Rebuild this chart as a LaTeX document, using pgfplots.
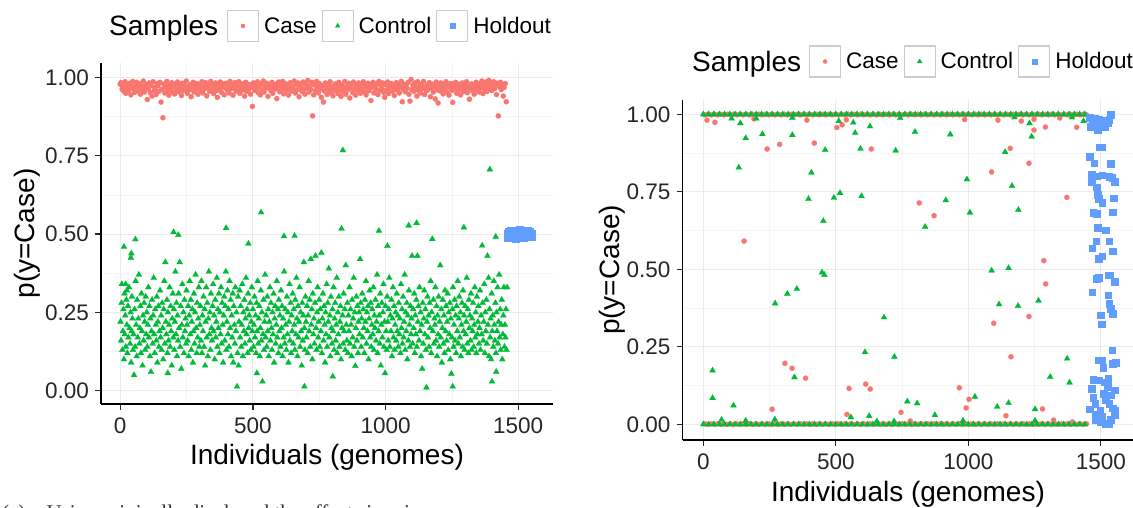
\documentclass[border=0pt]{standalone}
\usepackage{fontspec}
\setmainfont{Liberation Sans}
\newfontfamily\capfont{Liberation Serif}
\usepackage{pgfplots}
\pgfplotsset{compat=1.18}
\usepackage{pgfplotstable}
\definecolor{casecol}{HTML}{F8766D}
\definecolor{ctrlcol}{HTML}{00BA38}
\definecolor{holdcol}{HTML}{619CFF}
\definecolor{gridmaj}{HTML}{EBEBEB}
\definecolor{gridmin}{HTML}{F4F4F4}

% right panel: dense rows of points at p=1 and p=0
\pgfplotstableread[row sep=\\]{
x t b\\ 0 1 0\\ 10 1 0\\ 20 1 0\\ 30 1 0\\ 40 1 0\\ 50 1 0\\ 60 1 0\\ 70 1 0\\ 80 1 0\\ 90 1 0\\
100 1 0\\ 110 1 0\\ 120 1 0\\ 130 1 0\\ 140 1 0\\ 150 1 0\\ 160 1 0\\ 170 1 0\\ 180 1 0\\ 190 1 0\\
200 1 0\\ 210 1 0\\ 220 1 0\\ 230 1 0\\ 240 1 0\\ 250 1 0\\ 260 1 0\\ 270 1 0\\ 280 1 0\\ 290 1 0\\
300 1 0\\ 310 1 0\\ 320 1 0\\ 330 1 0\\ 340 1 0\\ 350 1 0\\ 360 1 0\\ 370 1 0\\ 380 1 0\\ 390 1 0\\
400 1 0\\ 410 1 0\\ 420 1 0\\ 430 1 0\\ 440 1 0\\ 450 1 0\\ 460 1 0\\ 470 1 0\\ 480 1 0\\ 490 1 0\\
500 1 0\\ 510 1 0\\ 520 1 0\\ 530 1 0\\ 540 1 0\\ 550 1 0\\ 560 1 0\\ 570 1 0\\ 580 1 0\\ 590 1 0\\
600 1 0\\ 610 1 0\\ 620 1 0\\ 630 1 0\\ 640 1 0\\ 650 1 0\\ 660 1 0\\ 670 1 0\\ 680 1 0\\ 690 1 0\\
700 1 0\\ 710 1 0\\ 720 1 0\\ 730 1 0\\ 740 1 0\\ 750 1 0\\ 760 1 0\\ 770 1 0\\ 780 1 0\\ 790 1 0\\
800 1 0\\ 810 1 0\\ 820 1 0\\ 830 1 0\\ 840 1 0\\ 850 1 0\\ 860 1 0\\ 870 1 0\\ 880 1 0\\ 890 1 0\\
900 1 0\\ 910 1 0\\ 920 1 0\\ 930 1 0\\ 940 1 0\\ 950 1 0\\ 960 1 0\\ 970 1 0\\ 980 1 0\\ 990 1 0\\
1000 1 0\\ 1010 1 0\\ 1020 1 0\\ 1030 1 0\\ 1040 1 0\\ 1050 1 0\\ 1060 1 0\\ 1070 1 0\\ 1080 1 0\\ 1090 1 0\\
1100 1 0\\ 1110 1 0\\ 1120 1 0\\ 1130 1 0\\ 1140 1 0\\ 1150 1 0\\ 1160 1 0\\ 1170 1 0\\ 1180 1 0\\ 1190 1 0\\
1200 1 0\\ 1210 1 0\\ 1220 1 0\\ 1230 1 0\\ 1240 1 0\\ 1250 1 0\\ 1260 1 0\\ 1270 1 0\\ 1280 1 0\\ 1290 1 0\\
1300 1 0\\ 1310 1 0\\ 1320 1 0\\ 1330 1 0\\ 1340 1 0\\ 1350 1 0\\ 1360 1 0\\ 1370 1 0\\ 1380 1 0\\ 1390 1 0\\
1400 1 0\\ 1410 1 0\\ 1420 1 0\\ 1430 1 0\\ 1440 1 0\\ 1450 1 0\\
}\greenline
\pgfplotstableread[row sep=\\]{
x t b\\ 6 0.998 0.002\\ 18 1 0\\ 30 0.998 0.002\\ 42 1 0\\ 54 0.998 0.002\\ 66 1 0\\ 78 0.998 0.002\\ 90 1 0\\
102 0.998 0.002\\ 114 1 0\\ 126 0.998 0.002\\ 138 1 0\\ 150 0.998 0.002\\ 162 1 0\\ 174 0.998 0.002\\ 186 1 0\\ 198 0.998 0.002\\
210 1 0\\ 222 0.998 0.002\\ 234 1 0\\ 246 0.998 0.002\\ 258 1 0\\ 270 0.998 0.002\\ 282 1 0\\ 294 0.998 0.002\\
306 1 0\\ 318 0.998 0.002\\ 330 1 0\\ 342 0.998 0.002\\ 354 1 0\\ 366 0.998 0.002\\ 378 1 0\\ 390 0.998 0.002\\
402 1 0\\ 414 0.998 0.002\\ 426 1 0\\ 438 0.998 0.002\\ 450 1 0\\ 462 0.998 0.002\\ 474 1 0\\ 486 0.998 0.002\\ 498 1 0\\
510 0.998 0.002\\ 522 1 0\\ 534 0.998 0.002\\ 546 1 0\\ 558 0.998 0.002\\ 570 1 0\\ 582 0.998 0.002\\ 594 1 0\\
606 0.998 0.002\\ 618 1 0\\ 630 0.998 0.002\\ 642 1 0\\ 654 0.998 0.002\\ 666 1 0\\ 678 0.998 0.002\\ 690 1 0\\
702 0.998 0.002\\ 714 1 0\\ 726 0.998 0.002\\ 738 1 0\\ 750 0.998 0.002\\ 762 1 0\\ 774 0.998 0.002\\ 786 1 0\\ 798 0.998 0.002\\
810 1 0\\ 822 0.998 0.002\\ 834 1 0\\ 846 0.998 0.002\\ 858 1 0\\ 870 0.998 0.002\\ 882 1 0\\ 894 0.998 0.002\\
906 1 0\\ 918 0.998 0.002\\ 930 1 0\\ 942 0.998 0.002\\ 954 1 0\\ 966 0.998 0.002\\ 978 1 0\\ 990 0.998 0.002\\
1002 1 0\\ 1014 0.998 0.002\\ 1026 1 0\\ 1038 0.998 0.002\\ 1050 1 0\\ 1062 0.998 0.002\\ 1074 1 0\\ 1086 0.998 0.002\\ 1098 1 0\\
1110 0.998 0.002\\ 1122 1 0\\ 1134 0.998 0.002\\ 1146 1 0\\ 1158 0.998 0.002\\ 1170 1 0\\ 1182 0.998 0.002\\ 1194 1 0\\
1206 0.998 0.002\\ 1218 1 0\\ 1230 0.998 0.002\\ 1242 1 0\\ 1254 0.998 0.002\\ 1266 1 0\\ 1278 0.998 0.002\\ 1290 1 0\\
1302 0.998 0.002\\ 1314 1 0\\ 1326 0.998 0.002\\ 1338 1 0\\ 1350 0.998 0.002\\ 1362 1 0\\ 1374 0.998 0.002\\ 1386 1 0\\ 1398 0.998 0.002\\
1410 1 0\\ 1422 0.998 0.002\\ 1434 1 0\\ 1446 0.998 0.002\\
}\redline

\pgfplotsset{
  panel/.style={
    scale only axis, width=452pt,
    axis x line*=bottom, axis y line*=left,
    axis line style={line width=1.3pt, black, -},
    tick align=outside, major tick length=6pt,
    tick style={line width=1.2pt, black!85},
    minor tick length=0pt,
    xtick={0,500,1000,1500}, xticklabels={0,500,1000,1500},
    minor xtick={250,750,1250},
    ytick={0,0.25,0.5,0.75,1}, yticklabels={0.00,0.25,0.50,0.75,1.00},
    minor ytick={0.125,0.375,0.625,0.875},
    grid=both,
    major grid style={gridmaj, line width=1pt},
    minor grid style={gridmin, line width=0.6pt},
    /pgf/number format/assume math mode=true,
    tick label style={font=\fontsize{22.5}{26}\selectfont, text=black!85},
    xticklabel style={inner sep=0pt, yshift=-8pt},
    yticklabel style={inner sep=0pt, xshift=-6pt},
    legend style={draw=none, fill=none, inner sep=0pt, outer sep=0pt,
      legend columns=-1, font=\fontsize{22.5}{26}\selectfont,
      /tikz/every odd column/.append style={column sep=3pt},
      /tikz/every even column/.append style={column sep=3pt}},
  },
  casep/.style={only marks, mark=*, mark size=2.6pt, color=casecol,
    mark options={draw=casecol, fill=casecol, line width=0.2pt}},
  ctrlp/.style={only marks, mark=triangle*, mark size=3.5pt, color=ctrlcol,
    mark options={draw=ctrlcol, fill=ctrlcol, line width=0.2pt}},
  holdp/.style={only marks, mark=square*, mark size=3.3pt, color=holdcol,
    mark options={draw=holdcol, fill=holdcol, line width=0.2pt}},
  keycase/.style={legend image code/.code={
    \draw[draw=black!20, fill=white, line width=1.1pt] (0pt,-15.5pt) rectangle (31pt,15.5pt);
    \draw[mark size=2.1pt] plot coordinates {(15.5pt,0pt)};}},
  keyctrl/.style={legend image code/.code={
    \draw[draw=black!20, fill=white, line width=1.1pt] (0pt,-15.5pt) rectangle (31pt,15.5pt);
    \draw[mark size=2.8pt] plot coordinates {(15.5pt,0pt)};}},
  keyhold/.style={legend image code/.code={
    \draw[draw=black!20, fill=white, line width=1.1pt] (0pt,-15.5pt) rectangle (31pt,15.5pt);
    \draw[mark size=2.6pt] plot coordinates {(15.5pt,0pt)};}},
}

\begin{document}
\begin{tikzpicture}
\useasboundingbox (0pt,0pt) rectangle (1133pt,508pt);

%================ LEFT PANEL =================
\begin{axis}[panel, at={(101pt,104pt)}, anchor=south west, height=340.7pt,
  xmin=-72.5, xmax=1631, ymin=-0.0424, ymax=1.0447,
  legend style={at={(axis description cs:0.2788,1.1095)}, anchor=west}]
\addplot[casep, keycase] coordinates {
(0,0.978)(3,0.983)(7,0.962)(10,0.971)(14,0.955)(18,0.986)(21,0.949)(25,0.968)(29,0.976)(32,0.958)(36,0.981)(40,0.944)(43,0.970)(47,0.987)(51,0.962)(54,0.952)(58,0.975)(62,0.984)(65,0.957)(69,0.966)(73,0.979)(76,0.946)(80,0.972)(84,0.960)(87,0.988)(91,0.953)(95,0.969)(98,0.977)
(102,0.929)(106,0.963)(109,0.982)(113,0.951)(117,0.974)(120,0.940)(124,0.986)(128,0.958)(131,0.967)(135,0.945)(139,0.980)(142,0.973)(146,0.955)(150,0.984)(154,0.921)(157,0.962)(161,0.871)(165,0.978)(168,0.950)(172,0.969)(176,0.987)(179,0.957)(183,0.943)(187,0.976)(190,0.964)(194,0.983)(198,0.952)
(201,0.970)(205,0.947)(209,0.979)(212,0.961)(216,0.985)(220,0.954)(223,0.972)(227,0.966)(231,0.942)(234,0.981)(238,0.958)(242,0.975)(245,0.963)(249,0.988)(253,0.949)(256,0.970)(260,0.960)(264,0.977)(267,0.938)(271,0.965)(275,0.984)(278,0.953)(282,0.973)(286,0.962)(289,0.980)(293,0.946)(297,0.968)
(300,0.976)(304,0.957)(308,0.986)(311,0.950)(315,0.971)(319,0.964)(322,0.983)(326,0.941)(330,0.967)(333,0.978)(337,0.955)(341,0.987)(344,0.961)(348,0.974)(352,0.948)(355,0.969)(359,0.982)(363,0.958)(366,0.936)(370,0.975)(374,0.963)(377,0.985)(381,0.952)(385,0.970)(388,0.979)(392,0.944)(396,0.966)
(399,0.981)(403,0.959)(407,0.972)(410,0.950)(414,0.987)(418,0.964)(421,0.976)(425,0.943)(429,0.968)(432,0.983)(436,0.956)(440,0.974)(443,0.962)(447,0.986)(451,0.949)(454,0.971)(458,0.958)(462,0.979)(465,0.967)(469,0.940)(473,0.984)(476,0.955)(480,0.973)(484,0.961)(487,0.977)(491,0.946)(495,0.969)(498,0.907)
(502,0.982)(506,0.958)(509,0.975)(513,0.963)(517,0.986)(520,0.951)(524,0.970)(528,0.944)(531,0.979)(535,0.960)(539,0.988)(542,0.953)(546,0.972)(550,0.965)(553,0.981)(557,0.939)(561,0.967)(564,0.976)(568,0.957)(572,0.984)(575,0.949)(579,0.971)(583,0.962)(586,0.978)(590,0.932)(594,0.966)(597,0.985)
(601,0.954)(605,0.973)(608,0.961)(612,0.987)(616,0.947)(619,0.969)(623,0.980)(627,0.958)(630,0.975)(634,0.943)(638,0.965)(641,0.983)(645,0.956)(649,0.971)(652,0.963)(656,0.988)(660,0.950)(663,0.977)(667,0.960)(671,0.982)(674,0.938)(678,0.968)(682,0.974)(685,0.955)(689,0.985)(693,0.962)(696,0.946)
(700,0.978)(704,0.966)(707,0.990)(711,0.953)(715,0.972)(718,0.961)(722,0.984)(725,0.877)(729,0.944)(733,0.975)(736,0.958)(740,0.987)(744,0.969)(747,0.950)(751,0.980)(755,0.963)(758,0.936)(762,0.973)(766,0.921)(769,0.956)(773,0.982)(777,0.967)(780,0.945)(784,0.976)(788,0.960)(791,0.986)(795,0.952)(799,0.970)
(802,0.941)(806,0.965)(810,0.979)(813,0.957)(817,0.972)(821,0.948)(824,0.984)(828,0.962)(832,0.939)(835,0.975)(839,0.955)(843,0.968)(846,0.987)(850,0.946)(854,0.971)(857,0.960)(861,0.981)(865,0.934)(868,0.966)(872,0.977)(876,0.951)(879,0.985)(883,0.963)(887,0.943)(890,0.974)(894,0.958)(898,0.982)
(901,0.967)(905,0.949)(909,0.978)(912,0.961)(916,0.986)(920,0.953)(923,0.972)(927,0.944)(931,0.965)(934,0.981)(938,0.957)(942,0.975)(945,0.926)(949,0.968)(953,0.984)(956,0.950)(960,0.970)(964,0.962)(967,0.979)(971,0.945)(975,0.987)(978,0.958)(982,0.973)(986,0.964)(989,0.982)(993,0.952)(997,0.936)
(1000,0.977)(1004,0.960)(1008,0.985)(1011,0.948)(1015,0.971)(1019,0.963)(1022,0.980)(1026,0.956)(1030,0.974)(1033,0.942)(1037,0.967)(1041,0.983)(1044,0.959)(1048,0.976)(1052,0.950)(1055,0.969)(1059,0.987)(1063,0.922)(1066,0.962)(1070,0.978)(1074,0.954)(1077,0.972)(1081,0.965)(1085,0.984)(1088,0.946)(1092,0.924)(1096,0.993)
(1099,0.961)(1103,0.975)(1107,0.955)(1110,0.982)(1114,0.968)(1118,0.940)(1121,0.986)(1125,0.958)(1129,0.973)(1132,0.950)(1136,0.979)(1140,0.964)(1143,0.987)(1147,0.945)(1151,0.970)(1154,0.957)(1158,0.976)(1162,0.962)(1165,0.983)(1169,0.938)(1173,0.967)(1176,0.978)(1180,0.953)(1184,0.971)(1187,0.931)(1191,0.985)(1195,0.960)(1198,0.918)
(1202,0.974)(1206,0.956)(1209,0.982)(1213,0.965)(1217,0.947)(1220,0.977)(1224,0.961)(1228,0.986)(1231,0.952)(1235,0.972)(1239,0.943)(1242,0.968)(1246,0.980)(1250,0.958)(1253,0.920)(1257,0.975)(1261,0.963)(1264,0.984)(1268,0.949)(1272,0.970)(1275,0.959)(1279,0.978)(1283,0.944)(1286,0.966)(1290,0.982)(1294,0.955)(1297,0.973)
(1301,0.962)(1305,0.986)(1308,0.951)(1312,0.971)(1316,0.930)(1319,0.964)(1323,0.979)(1327,0.957)(1330,0.975)(1334,0.946)(1338,0.968)(1341,0.984)(1345,0.960)(1349,0.973)(1352,0.953)(1356,0.981)(1360,0.966)(1363,0.988)(1367,0.948)(1371,0.977)(1374,0.962)(1378,0.985)(1382,0.955)(1385,0.972)(1389,0.990)(1393,0.967)(1396,0.980)(1400,0.958)(1404,0.976)(1407,0.986)(1411,0.964)(1415,0.982)(1418,0.945)(1422,0.978)(1425,0.877)(1429,0.970)(1433,0.984)(1436,0.961)(1440,0.975)(1444,0.940)(1447,0.968)(1451,0.980)(1455,0.922)
};
\addlegendentry{Case}
\addplot[ctrlp, keyctrl] coordinates {
(14,0.459)(57,0.483)(42,0.438)(40,0.424)(20,0.34)(25,0.32)
(1,0.22)(3,0.16)(5,0.28)(6,0.34)(8,0.13)(10,0.19)(12,0.26)(14,0.10)(16,0.31)(17,0.18)(19,0.24)(21,0.14)(23,0.29)(25,0.21)(27,0.12)(29,0.27)(31,0.17)(33,0.33)(35,0.20)(37,0.15)(39,0.25)(41,0.09)(43,0.19)(44,0.30)(46,0.23)(48,0.13)
(50,0.18)(52,0.05)(54,0.26)(56,0.14)(58,0.35)(60,0.21)(62,0.11)(64,0.29)(66,0.17)(68,0.23)(70,0.37)(72,0.15)(74,0.20)(76,0.27)(78,0.12)(80,0.31)(82,0.19)(84,0.08)(86,0.24)(88,0.16)(90,0.28)(92,0.22)(94,0.13)(96,0.30)(98,0.18)
(100,0.25)(102,0.14)(104,0.21)(106,0.33)(108,0.17)(110,0.27)(112,0.11)(114,0.23)(116,0.06)(118,0.19)(120,0.29)(122,0.15)(124,0.24)(126,0.36)(128,0.18)(130,0.12)(132,0.26)(134,0.21)(136,0.16)(138,0.30)(140,0.09)(142,0.22)(144,0.27)(146,0.14)(148,0.19)
(150,0.32)(152,0.17)(154,0.24)(156,0.13)(158,0.28)(160,0.20)(162,0.10)(164,0.26)(166,0.35)(168,0.15)(170,0.41)(172,0.22)(174,0.18)(176,0.29)(178,0.12)(179,0.056)(180,0.25)(182,0.16)(184,0.21)(186,0.33)(188,0.14)(190,0.27)(192,0.19)(194,0.08)(196,0.23)(198,0.31)
(201,0.506)(200,0.17)(202,0.26)(204,0.13)(206,0.22)(208,0.38)(210,0.18)(212,0.28)(214,0.11)(216,0.24)(219,0.497)(218,0.16)(220,0.31)(222,0.20)(224,0.41)(226,0.14)(228,0.27)(230,0.07)(232,0.21)(234,0.34)(236,0.17)(238,0.25)(240,0.12)(242,0.29)(244,0.19)(246,0.23)(248,0.15)
(250,0.32)(252,0.21)(254,0.16)(256,0.27)(258,0.11)(260,0.24)(262,0.35)(264,0.18)(266,0.29)(268,0.13)(270,0.22)(272,0.26)(274,0.09)(276,0.19)(278,0.31)(280,0.15)(282,0.25)(284,0.37)(286,0.20)(288,0.12)(290,0.28)(292,0.17)(294,0.23)(296,0.33)(298,0.14)
(300,0.21)(302,0.27)(304,0.16)(306,0.35)(308,0.12)(310,0.24)(312,0.19)(314,0.30)(316,0.14)(318,0.26)(320,0.08)(322,0.22)(324,0.33)(326,0.17)(328,0.28)(330,0.11)(332,0.23)(334,0.38)(336,0.18)(338,0.25)(340,0.13)(342,0.31)(344,0.20)(346,0.16)(348,0.27)
(350,0.34)(352,0.19)(354,0.24)(356,0.10)(358,0.29)(360,0.17)(362,0.22)(364,0.36)(366,0.14)(368,0.26)(370,0.20)(372,0.31)(374,0.12)(376,0.25)(378,0.18)(380,0.33)(382,0.15)(384,0.28)(386,0.21)(388,0.09)(390,0.24)(392,0.30)(394,0.16)(396,0.27)(398,0.38)(399,0.519)
(400,0.13)(402,0.22)(404,0.32)(406,0.18)(408,0.26)(410,0.14)(412,0.35)(414,0.20)(416,0.29)(418,0.11)(420,0.24)(422,0.17)(424,0.31)(426,0.09)(428,0.27)(430,0.21)(432,0.15)(434,0.33)(436,0.19)(438,0.25)(440,0.013)(442,0.12)(444,0.30)(446,0.08)(448,0.22)
(450,0.32)(452,0.17)(454,0.27)(456,0.14)(458,0.21)(460,0.34)(462,0.11)(464,0.25)(466,0.19)(468,0.29)(470,0.15)(472,0.23)(474,0.36)(476,0.18)(478,0.26)(480,0.12)(482,0.31)(483,0.469)(484,0.20)(486,0.24)(488,0.16)(490,0.28)(492,0.13)(494,0.22)(496,0.33)(498,0.19)
(500,0.26)(502,0.14)(504,0.21)(506,0.30)(508,0.17)(510,0.24)(512,0.12)(514,0.28)(515,0.056)(516,0.19)(518,0.35)(520,0.15)(522,0.23)(524,0.27)(526,0.11)(528,0.20)(530,0.32)(531,0.569)(532,0.16)(534,0.25)(536,0.029)(538,0.18)(540,0.29)(542,0.13)(544,0.22)(546,0.37)(548,0.17)
(550,0.24)(552,0.14)(554,0.30)(556,0.19)(558,0.26)(560,0.11)(562,0.22)(564,0.33)(566,0.16)(568,0.28)(570,0.20)(572,0.13)(574,0.25)(576,0.18)(578,0.31)(580,0.09)(582,0.23)(584,0.27)(586,0.15)(588,0.21)(590,0.35)(592,0.17)(594,0.26)(596,0.12)(598,0.29)
(600,0.19)(602,0.24)(604,0.14)(606,0.32)(608,0.20)(610,0.27)(612,0.11)(614,0.23)(616,0.17)(617,0.493)(618,0.38)(620,0.15)(622,0.26)(624,0.21)(626,0.13)(628,0.30)(630,0.18)(632,0.25)(634,0.09)(636,0.22)(638,0.34)(640,0.16)(642,0.28)(644,0.12)(646,0.24)(648,0.19)
(650,0.31)(652,0.15)(654,0.26)(656,0.21)(657,0.494)(658,0.13)(660,0.29)(662,0.18)(664,0.36)(666,0.23)(668,0.11)(670,0.27)(672,0.17)(674,0.22)(676,0.33)(678,0.14)(680,0.25)(682,0.19)(684,0.08)(686,0.28)(688,0.16)(690,0.24)(692,0.41)(694,0.20)(696,0.13)(698,0.30)(694,0.013)
(700,0.22)(702,0.17)(704,0.27)(706,0.12)(708,0.24)(710,0.35)(712,0.19)(714,0.29)(716,0.14)(718,0.42)(720,0.21)(722,0.26)(724,0.10)(726,0.31)(728,0.18)(730,0.23)(732,0.15)(734,0.28)(736,0.43)(738,0.20)(740,0.13)(742,0.25)(744,0.33)(746,0.17)(748,0.22)
(750,0.29)(752,0.14)(754,0.26)(756,0.19)(758,0.44)(760,0.12)(762,0.23)(764,0.31)(766,0.16)(768,0.27)(770,0.21)(772,0.09)(774,0.25)(776,0.18)(778,0.34)(780,0.14)(782,0.28)(784,0.22)(786,0.39)(788,0.17)(790,0.24)(792,0.11)(794,0.30)(796,0.20)(798,0.15)(801,0.045)
(800,0.26)(802,0.19)(804,0.33)(806,0.13)(808,0.23)(810,0.28)(812,0.16)(814,0.21)(816,0.36)(818,0.12)(820,0.25)(822,0.18)(824,0.30)(826,0.14)(828,0.22)(830,0.27)(832,0.10)(834,0.517)(836,0.20)(838,0.24)(839,0.767)(840,0.15)(842,0.31)(844,0.19)(846,0.26)(848,0.13)
(850,0.40)(852,0.21)(854,0.16)(856,0.28)(858,0.12)(860,0.24)(862,0.19)(864,0.33)(866,0.15)(868,0.26)(870,0.21)(872,0.11)(874,0.29)(876,0.17)(878,0.23)(880,0.36)(882,0.14)(884,0.25)(886,0.079)(888,0.20)(890,0.30)(892,0.16)(894,0.27)(896,0.12)(898,0.22)
(900,0.25)(902,0.18)(904,0.42)(906,0.28)(908,0.14)(910,0.23)(912,0.31)(914,0.17)(916,0.26)(918,0.20)(920,0.12)(922,0.29)(924,0.22)(926,0.35)(928,0.15)(930,0.25)(932,0.19)(934,0.27)(936,0.10)(938,0.23)(940,0.32)(942,0.17)(944,0.28)(946,0.14)(948,0.21)
(950,0.26)(952,0.18)(954,0.33)(956,0.13)(958,0.24)(960,0.20)(962,0.29)(964,0.16)(966,0.22)(968,0.37)(970,0.12)(972,0.27)(974,0.19)(975,0.510)(976,0.24)(978,0.15)(980,0.31)(982,0.08)(984,0.21)(986,0.28)(988,0.17)(990,0.25)(992,0.34)(994,0.14)(996,0.22)(998,0.056)
(1000,0.27)(1002,0.19)(1004,0.13)(1006,0.30)(1007,0.462)(1008,0.22)(1010,0.16)(1012,0.26)(1014,0.36)(1016,0.14)(1018,0.24)(1020,0.19)(1022,0.29)(1024,0.11)(1026,0.23)(1028,0.33)(1030,0.17)(1032,0.27)(1034,0.13)(1036,0.21)(1038,0.25)(1040,0.16)(1042,0.31)(1044,0.19)(1046,0.24)(1048,0.14)
(1050,0.28)(1052,0.18)(1054,0.23)(1056,0.12)(1058,0.34)(1060,0.20)(1062,0.26)(1064,0.15)(1066,0.30)(1068,0.17)(1070,0.22)(1072,0.37)(1074,0.13)(1076,0.25)(1078,0.19)(1080,0.28)(1082,0.10)(1084,0.24)(1086,0.16)(1087,0.527)(1088,0.32)(1090,0.21)(1092,0.14)(1094,0.27)(1096,0.18)(1098,0.23)
(1100,0.43)(1102,0.15)(1104,0.26)(1106,0.20)(1108,0.31)(1110,0.12)(1112,0.24)(1114,0.18)(1116,0.29)(1117,0.535)(1118,0.14)(1120,0.43)(1122,0.22)(1124,0.27)(1126,0.16)(1128,0.33)(1130,0.19)(1132,0.25)(1134,0.11)(1136,0.21)(1138,0.07)(1140,0.28)(1142,0.15)(1144,0.23)(1146,0.32)(1148,0.18)
(1150,0.26)(1152,0.13)(1154,0.010)(1156,0.22)(1158,0.30)(1160,0.17)(1162,0.24)(1164,0.14)(1166,0.28)(1168,0.20)(1170,0.35)(1172,0.12)(1174,0.25)(1176,0.484)(1178,0.19)(1180,0.29)(1182,0.15)(1184,0.23)(1186,0.21)(1188,0.33)(1190,0.16)(1192,0.27)(1194,0.11)(1196,0.24)(1198,0.18)
(1200,0.30)(1202,0.14)(1204,0.22)(1206,0.40)(1208,0.17)(1210,0.26)(1212,0.09)(1214,0.20)(1216,0.29)(1218,0.15)(1220,0.24)(1222,0.12)(1224,0.32)(1226,0.19)(1228,0.27)(1230,0.16)(1232,0.22)(1234,0.31)(1236,0.13)(1238,0.25)(1240,0.18)(1242,0.28)(1244,0.10)(1246,0.23)(1248,0.054)(1250,0.17)
(1253,0.013)(1252,0.26)(1254,0.33)(1256,0.14)(1258,0.21)(1260,0.29)(1262,0.16)(1264,0.24)(1266,0.12)(1268,0.27)(1270,0.19)(1272,0.35)(1274,0.15)(1276,0.23)(1278,0.30)(1280,0.17)(1282,0.25)(1284,0.11)(1286,0.21)(1288,0.28)(1290,0.14)(1292,0.32)(1294,0.19)(1295,0.521)(1296,0.24)(1298,0.13)
(1300,0.27)(1302,0.18)(1304,0.22)(1306,0.36)(1308,0.15)(1310,0.26)(1312,0.12)(1314,0.29)(1316,0.20)(1318,0.24)(1320,0.16)(1322,0.31)(1324,0.13)(1326,0.23)(1328,0.19)(1330,0.28)(1332,0.14)(1334,0.21)(1336,0.33)(1338,0.17)(1340,0.25)(1342,0.12)(1344,0.30)(1346,0.18)(1348,0.22)
(1350,0.27)(1352,0.15)(1354,0.20)(1356,0.32)(1358,0.13)(1360,0.24)(1362,0.18)(1364,0.463)(1366,0.28)(1368,0.16)(1370,0.22)(1372,0.34)(1374,0.12)(1376,0.25)(1378,0.19)(1380,0.29)(1382,0.15)(1384,0.43)(1386,0.21)(1388,0.36)(1390,0.11)(1392,0.26)(1393,0.706)(1394,0.17)(1396,0.23)(1398,0.10)(1401,0.029)
(1400,0.31)(1402,0.19)(1404,0.24)(1406,0.14)(1408,0.35)(1410,0.21)(1412,0.16)(1414,0.28)(1415,0.491)(1416,0.12)(1417,0.060)(1418,0.25)(1420,0.19)(1422,0.33)(1424,0.15)(1426,0.22)(1428,0.37)(1430,0.17)(1432,0.26)(1434,0.13)(1436,0.21)(1438,0.29)(1440,0.10)(1442,0.18)(1444,0.24)(1446,0.33)(1448,0.14)(1450,0.21)(1452,0.17)(1454,0.26)(1456,0.13)(1458,0.33)
};
\addlegendentry{Control}
\addplot[holdp, keyhold] coordinates {
(1458,0.502)(1461,0.494)(1464,0.508)(1467,0.497)(1470,0.505)(1473,0.491)(1476,0.511)(1479,0.499)(1482,0.488)(1485,0.506)(1488,0.495)(1491,0.503)(1494,0.512)(1497,0.490)(1500,0.500)(1503,0.508)(1506,0.496)(1509,0.504)(1512,0.489)(1515,0.510)(1518,0.498)(1521,0.506)(1524,0.493)(1527,0.501)(1530,0.511)(1533,0.497)(1536,0.505)(1539,0.490)(1542,0.502)(1545,0.508)(1548,0.495)(1551,0.503)(1460,0.489)(1472,0.513)(1490,0.486)(1505,0.514)(1520,0.487)(1535,0.513)(1550,0.491)
};
\addlegendentry{Holdout}
\end{axis}

%================ RIGHT PANEL =================
\begin{axis}[panel, at={(682.7pt,68pt)}, anchor=south west, height=340pt,
  xmin=-77.7, xmax=1628, ymin=-0.0503, ymax=1.046,
  legend style={at={(axis description cs:0.2794,1.1132)}, anchor=west}]
\addplot[casep, forget plot] table[x=x, y=t] {\redline};
\addplot[casep, forget plot] table[x=x, y=b] {\redline};
\addplot[casep, keycase] coordinates {
(14,0.981)(44,0.974)(191,0.985)(241,0.888)(288,0.903)(391,0.981)(419,0.907)(504,0.957)(524,0.966)(540,0.982)(634,0.888)(154,0.591)(815,0.714)(871,0.673)(986,0.983)(1112,0.981)(1088,0.814)(1158,0.890)(1200,0.978)(1229,0.842)(1248,0.949)(1248,0.984)(1291,0.959)(1285,0.528)(1292,0.453)(1345,0.988)(1372,0.732)(1409,0.958)
(308,0.197)(335,0.181)(386,0.149)(260,0.049)(550,0.116)(613,0.130)(630,0.114)(542,0.032)(746,0.039)(781,0.011)(966,0.118)(1003,0.081)(992,0.053)(1096,0.326)(1161,0.218)(1142,0.028)(1229,0.348)(1280,0.050)(1322,0.014)(1393,0.008)
};
\addlegendentry{Case}
\addplot[ctrlp, forget plot, each nth point=2] table[x=x, y=t] {\greenline};
\addplot[ctrlp, forget plot, each nth point=2] table[x=x, y=b] {\greenline};
\addplot[ctrlp, keyctrl] coordinates {
(107,0.986)(140,0.971)(160,0.923)(134,0.828)(223,0.936)(200,0.986)(336,0.988)(336,0.933)(408,0.812)(397,0.727)(453,0.656)(460,0.885)(493,0.731)(516,0.746)(511,0.978)(566,0.973)(573,0.940)(593,0.889)(597,0.736)(629,0.961)(726,0.883)(743,0.988)(799,0.943)(837,0.637)(915,0.723)(932,0.935)(995,0.790)(1006,0.683)(1139,0.878)(1165,0.769)(1189,0.692)(1174,0.990)(1231,0.971)(1239,0.928)(1391,0.990)(1435,0.978)(1088,0.496)(1152,0.504)(448,0.490)(457,0.482)(353,0.437)
(271,0.390)(317,0.421)(35,0.174)(35,0.085)(114,0.061)(344,0.152)(682,0.345)(610,0.233)(721,0.218)(770,0.074)(807,0.068)(874,0.030)(626,0.027)(557,0.023)(1025,0.089)(1116,0.387)(1188,0.382)(1265,0.399)(1373,0.212)(1309,0.153)(1382,0.135)(1109,0.057)(1152,0.069)(1252,0.049)
(69,0.015)(160,0.012)(270,0.016)(980,0.012)(1252,0.012)(720,0.010)(655,0.010)
};
\addlegendentry{Control}
\addplot[holdp, keyhold] coordinates {
(1458,0.989)(1467,0.982)(1478,0.986)(1491,0.984)(1471,0.965)(1481,0.958)(1462,0.960)(1498,0.974)(1489,0.949)(1515,0.958)(1502,0.980)(1531,0.982)(1538,0.998)(1527,0.973)
(1458,0.863)(1494,0.894)(1505,0.894)(1474,0.842)(1465,0.806)(1485,0.801)(1505,0.804)(1531,0.799)(1542,0.796)(1465,0.783)(1485,0.765)(1487,0.740)(1491,0.729)(1505,0.715)(1551,0.783)(1538,0.840)(1548,0.730)(1545,0.684)(1471,0.683)(1485,0.679)(1489,0.634)(1518,0.627)(1482,0.591)(1531,0.591)(1467,0.568)(1505,0.543)(1491,0.535)(1545,0.559)
(1485,0.471)(1527,0.481)(1535,0.481)(1551,0.461)(1491,0.474)(1467,0.426)(1527,0.417)(1531,0.390)(1538,0.374)(1545,0.358)(1499,0.353)(1502,0.323)(1542,0.240)(1491,0.207)(1505,0.207)(1509,0.183)(1555,0.199)(1545,0.197)
(1471,0.145)(1491,0.143)(1515,0.137)(1527,0.148)(1465,0.115)(1525,0.121)(1551,0.111)(1471,0.086)(1478,0.068)(1511,0.100)(1538,0.095)(1518,0.078)(1458,0.049)(1481,0.033)(1498,0.046)(1505,0.025)(1531,0.068)(1545,0.052)(1551,0.032)(1478,0.014)(1498,0.008)(1518,0.003)(1529,0.001)(1538,0.016)(1554,0.044)
};
\addlegendentry{Holdout}
\end{axis}

%================ TEXT =================
\begin{scope}[every node/.style={inner sep=0pt, font=\fontsize{28}{32}\selectfont}]
\node[anchor=base west] at (109pt,472pt) {Samples};
\node[anchor=base west] at (692pt,436.5pt) {Samples};
\node[anchor=base, rotate=90] at (34.5pt,274.5pt) {p(y=Case)};
\node[anchor=base, rotate=90] at (619.5pt,238pt) {p(y=Case)};
\node[anchor=base] at (327pt,43pt) {Individuals (genomes)};
\node[anchor=base] at (908pt,6pt) {Individuals (genomes)};
\end{scope}
\node[anchor=north west, inner sep=0pt, text=black!80, font=\capfont\fontsize{21}{24}\selectfont] at (2pt,3pt) {(a)\quad Using originally displayed the effect sizes in};
\end{tikzpicture}
\end{document}
